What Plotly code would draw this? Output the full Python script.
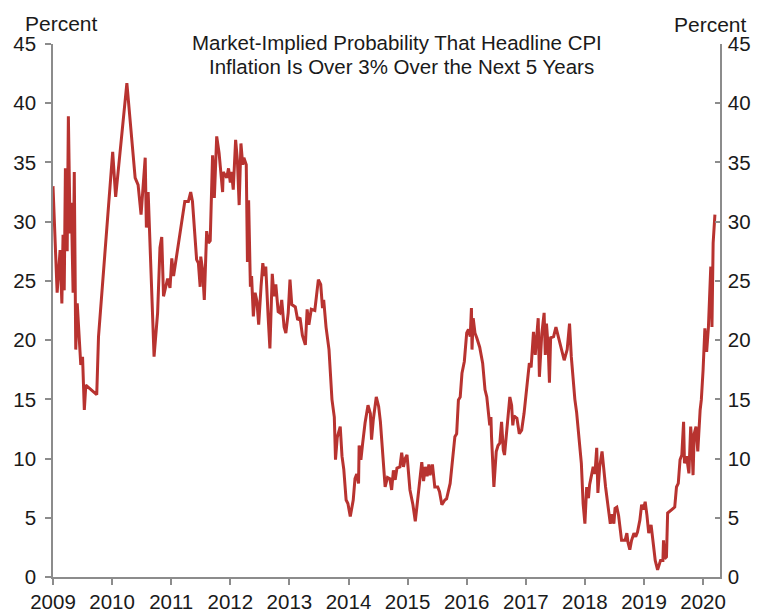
import plotly.graph_objects as go

# decimal-year dates and market-implied probability (percent)
years = [
    2009.00, 2009.07, 2009.12, 2009.15, 2009.17, 2009.19, 2009.21, 2009.24, 2009.26, 2009.29,
    2009.31, 2009.34, 2009.36, 2009.385, 2009.41, 2009.47, 2009.50, 2009.53, 2009.555, 2009.74,
    2009.77, 2010.01, 2010.06, 2010.25, 2010.39, 2010.44, 2010.49, 2010.56, 2010.58, 2010.61,
    2010.71, 2010.77, 2010.81, 2010.84, 2010.87, 2010.94, 2010.98, 2011.01, 2011.04, 2011.15,
    2011.23, 2011.29, 2011.33, 2011.36, 2011.43, 2011.46, 2011.49, 2011.50, 2011.53, 2011.56,
    2011.60, 2011.63, 2011.66, 2011.70, 2011.73, 2011.77, 2011.81, 2011.87, 2011.88, 2011.94,
    2011.97, 2012.00, 2012.02, 2012.05, 2012.09, 2012.12, 2012.15, 2012.18, 2012.21, 2012.23,
    2012.27, 2012.29, 2012.31, 2012.34, 2012.36, 2012.39, 2012.42, 2012.45, 2012.48, 2012.52,
    2012.55, 2012.58, 2012.60, 2012.64, 2012.67, 2012.71, 2012.74, 2012.77, 2012.81, 2012.84,
    2012.87, 2012.91, 2012.94, 2012.98, 2013.01, 2013.04, 2013.10, 2013.14, 2013.18, 2013.22,
    2013.27, 2013.30, 2013.33, 2013.37, 2013.43, 2013.49, 2013.53, 2013.56, 2013.58, 2013.62,
    2013.67, 2013.72, 2013.76, 2013.78, 2013.81, 2013.86, 2013.89, 2013.92, 2013.96, 2013.99,
    2014.03, 2014.08, 2014.11, 2014.14, 2014.17, 2014.18, 2014.21, 2014.24, 2014.28, 2014.33,
    2014.37, 2014.39, 2014.42, 2014.47, 2014.51, 2014.54, 2014.58, 2014.62, 2014.66, 2014.70,
    2014.73, 2014.76, 2014.79, 2014.82, 2014.87, 2014.90, 2014.93, 2014.96, 2014.99, 2015.02,
    2015.04, 2015.09, 2015.13, 2015.17, 2015.21, 2015.24, 2015.27, 2015.30, 2015.33, 2015.36,
    2015.38, 2015.42, 2015.46, 2015.51, 2015.54, 2015.58, 2015.63, 2015.66, 2015.72, 2015.77,
    2015.80, 2015.83, 2015.86, 2015.89, 2015.92, 2015.96, 2016.00, 2016.03, 2016.06, 2016.08,
    2016.09, 2016.11, 2016.14, 2016.17, 2016.22, 2016.27, 2016.31, 2016.34, 2016.37, 2016.39,
    2016.41, 2016.42, 2016.46, 2016.50, 2016.53, 2016.56, 2016.59, 2016.62, 2016.64, 2016.68,
    2016.73, 2016.76, 2016.78, 2016.80, 2016.85, 2016.89, 2016.93, 2016.97, 2017.02, 2017.06,
    2017.09, 2017.13, 2017.16, 2017.19, 2017.21, 2017.23, 2017.27, 2017.31, 2017.33, 2017.35,
    2017.38, 2017.40, 2017.42, 2017.47, 2017.51, 2017.55, 2017.61, 2017.65, 2017.70, 2017.74,
    2017.77, 2017.80, 2017.83, 2017.86, 2017.91, 2017.94, 2017.97, 2018.00, 2018.03, 2018.06,
    2018.08, 2018.14, 2018.17, 2018.20, 2018.22, 2018.25, 2018.29, 2018.32, 2018.35, 2018.40,
    2018.43, 2018.46, 2018.49, 2018.51, 2018.54, 2018.57, 2018.62, 2018.68, 2018.71, 2018.73,
    2018.76, 2018.79, 2018.83, 2018.86, 2018.89, 2018.93, 2018.96, 2018.99, 2019.02, 2019.05,
    2019.08, 2019.12, 2019.14, 2019.19, 2019.23, 2019.28, 2019.32, 2019.33, 2019.35, 2019.38,
    2019.40, 2019.47, 2019.52, 2019.55, 2019.58, 2019.61, 2019.64, 2019.67, 2019.685, 2019.72,
    2019.76, 2019.79, 2019.81, 2019.83, 2019.85, 2019.88, 2019.91, 2019.95, 2019.97, 2020.00,
    2020.01, 2020.03, 2020.06, 2020.09, 2020.13, 2020.15, 2020.17, 2020.20,
]
prob = [
    33.0, 24.0, 27.6, 23.1, 28.9, 24.2, 34.5, 27.5, 38.9, 29.0,
    31.6, 24.0, 34.2, 19.2, 23.1, 17.9, 18.6, 14.1, 16.2, 15.4,
    20.3, 35.9, 32.1, 41.7, 33.7, 33.1, 30.6, 35.4, 29.5, 32.5,
    18.6, 22.3, 27.8, 28.7, 23.7, 25.2, 24.4, 26.9, 25.4, 29.0,
    31.7, 31.7, 32.5, 31.7, 26.8, 26.5, 24.5, 27.05, 26.0, 23.4,
    29.2, 28.2, 28.4, 35.6, 32.0, 37.2, 35.8, 32.5, 34.2, 33.7,
    34.5, 33.3, 34.2, 32.7, 36.9, 35.2, 31.4, 36.6, 34.8, 35.4,
    34.8, 26.6, 31.8, 24.5, 25.4, 22.0, 24.0, 23.3, 21.3, 24.5,
    26.5, 25.4, 26.2, 22.0, 19.3, 25.6, 23.7, 24.7, 22.4, 22.3,
    23.4, 21.1, 20.6, 22.3, 25.1, 23.0, 22.8, 21.7, 21.9, 20.4,
    19.6, 22.6, 21.3, 22.6, 22.5, 25.1, 24.7, 22.7, 23.4, 21.1,
    19.2, 15.0, 13.5, 9.9, 11.8, 12.7, 10.2, 9.1, 6.5, 6.2,
    5.1, 6.5, 8.3, 8.7, 7.9, 11.1, 9.9, 11.3, 13.0, 14.5,
    13.8, 11.6, 13.3, 15.2, 14.4, 13.1, 10.4, 7.6, 8.4, 8.3,
    7.35, 9.0, 8.2, 9.2, 9.3, 10.5, 9.3, 10.0, 10.3, 8.8,
    7.35, 6.1, 4.7, 6.5, 8.5, 9.7, 8.1, 9.3, 8.5, 9.5,
    8.6, 9.5, 7.6, 7.6, 7.2, 6.1, 6.5, 6.6, 7.9, 10.2,
    11.85, 12.1, 14.95, 15.2, 17.2, 18.2, 20.6, 20.9, 20.3, 22.7,
    19.2, 21.85, 20.6, 20.2, 19.4, 18.05, 15.8, 15.2, 13.7, 12.8,
    13.5, 11.85, 7.6, 10.6, 11.1, 11.3, 13.1, 10.7, 10.3, 12.4,
    15.2, 14.5, 12.8, 13.6, 13.4, 12.1, 12.4, 13.8, 16.2, 18.05,
    17.7, 20.7, 18.75, 21.1, 21.85, 16.9, 20.5, 22.3, 18.75, 21.4,
    19.3, 16.4, 20.2, 20.3, 21.1, 20.3, 19.0, 18.3, 19.2, 21.4,
    18.6, 16.4, 15.0, 13.9, 10.9, 9.6, 6.2, 4.5, 7.6, 6.65,
    7.8, 9.3, 8.7, 10.9, 7.1, 9.3, 10.6, 8.7, 7.6, 5.65,
    4.5, 5.3, 4.5, 5.8, 5.9, 5.2, 3.1, 3.1, 3.7, 2.9,
    2.3, 3.1, 3.7, 3.4, 3.8, 4.8, 6.1, 5.7, 6.35, 5.2,
    3.7, 4.4, 3.4, 1.4, 0.6, 1.4, 1.4, 3.1, 1.55, 1.7,
    5.4, 5.7, 5.9, 7.6, 7.9, 9.9, 10.3, 13.1, 9.6, 10.2,
    8.75, 12.7, 11.3, 8.6, 12.1, 12.7, 10.6, 14.1, 14.95, 17.5,
    18.9, 21.0, 19.0, 21.1, 26.2, 21.1, 28.2, 30.6,
]
tick_years = list(range(2009, 2021))
y_ticks = [0, 5, 10, 15, 20, 25, 30, 35, 40, 45]
title_lines = ["Market-Implied Probability That Headline CPI",
               "Inflation Is Over 3% Over the Next 5 Years"]

_FONT = dict(family="Arial, Liberation Sans, sans-serif", size=20.5, color="#1a1a1a")
_AXIS = "#8c8c8c"
_RED = "#B83330"

fig = go.Figure()
fig.add_trace(go.Scatter(x=years, y=prob, mode="lines",
                         line=dict(color=_RED, width=3), showlegend=False))
# same series on the right-hand axis so it is drawn
fig.add_trace(go.Scatter(x=years, y=prob, mode="lines", yaxis="y2",
                         line=dict(color="rgba(0,0,0,0)", width=0),
                         showlegend=False, hoverinfo="skip"))

fig.update_layout(
    width=764, height=611,
    paper_bgcolor="white", plot_bgcolor="white",
    font=_FONT,
    # page body adds an 8px offset, so margins are shifted to compensate
    margin=dict(l=45, r=52, t=36, b=42, autoexpand=False),
    xaxis=dict(range=[2009, 2020.286], tickvals=tick_years,
               ticktext=[str(y) for y in tick_years], automargin=False,
               showgrid=False, zeroline=False,
               showline=True, linecolor=_AXIS, linewidth=1.5,
               ticks="outside", ticklen=6, tickcolor=_AXIS, tickwidth=1.5),
    yaxis=dict(range=[0, 45], tickvals=y_ticks, showgrid=False, zeroline=False,
               automargin=False,
               showline=True, linecolor=_AXIS, linewidth=1.5,
               ticks="outside", ticklen=6, tickcolor=_AXIS, tickwidth=1.5,
               ticklabelstandoff=5),
    yaxis2=dict(range=[0, 45], tickvals=y_ticks, overlaying="y", side="right",
                showgrid=False, zeroline=False, automargin=False,
                showline=True, linecolor=_AXIS, linewidth=1.5,
                ticks="inside", ticklen=5, tickcolor=_AXIS, tickwidth=1.5,
                ticklabelstandoff=2),
    annotations=[
        dict(text=title_lines[0], xref="paper", yref="paper", x=0.515, y=1.002,
             yanchor="middle", showarrow=False),
        dict(text=title_lines[1], xref="paper", yref="paper", x=0.522, y=0.957,
             yanchor="middle", showarrow=False),
        dict(text="Percent", xref="paper", yref="paper", x=-0.045, y=1.039,
             xanchor="left", yanchor="middle", showarrow=False, font=dict(size=21)),
        dict(text="Percent", xref="paper", yref="paper", x=1.0435, y=1.0375,
             xanchor="right", yanchor="middle", showarrow=False, font=dict(size=21)),
    ],
)

fig.write_html("out.html")
